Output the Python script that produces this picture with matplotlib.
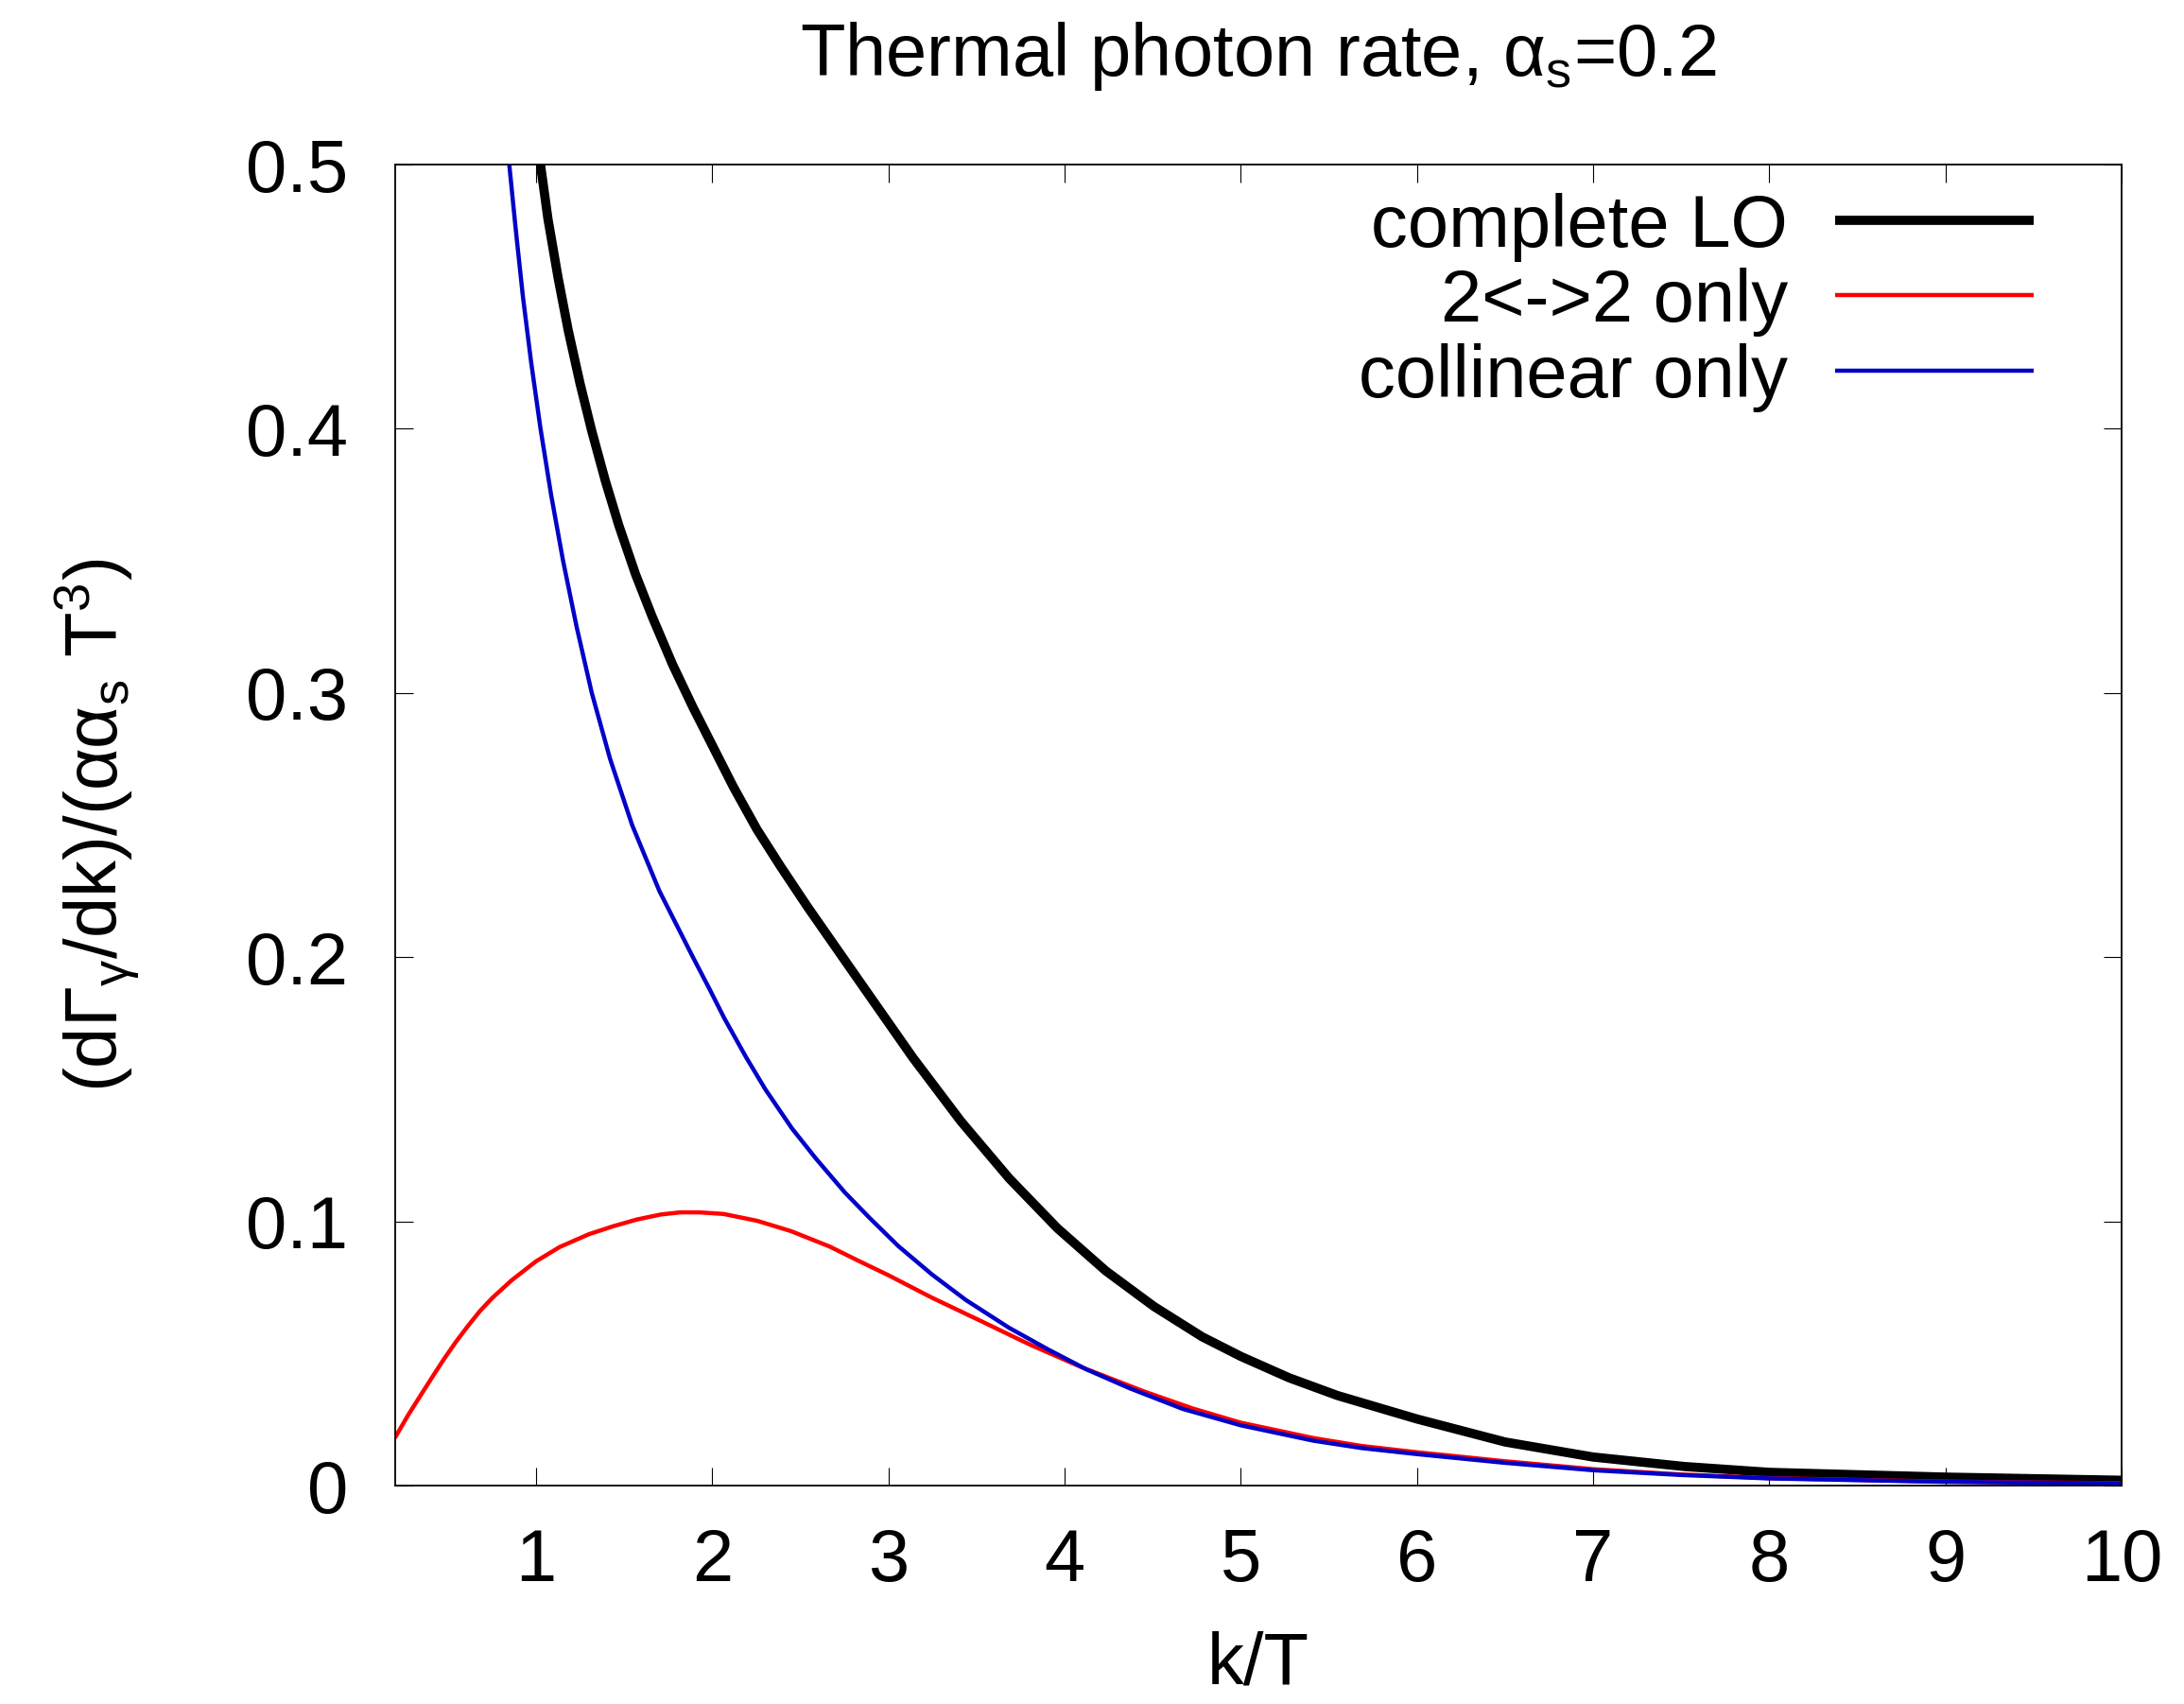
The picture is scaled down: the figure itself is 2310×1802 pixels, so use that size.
import matplotlib
matplotlib.use("Agg")
import matplotlib.pyplot as plt
from matplotlib.lines import Line2D

plt.rcParams['font.family'] = ['Liberation Sans', 'DejaVu Sans']
plt.rcParams['mathtext.fontset'] = 'custom'
plt.rcParams['mathtext.rm'] = 'Liberation Sans'

# complete LO rate
k_lo = [1.0, 1.067, 1.124, 1.182, 1.249, 1.316, 1.392, 1.469, 1.565, 1.660,
        1.775, 1.890, 2.005, 2.120, 2.254, 2.388, 2.541, 2.86, 3.137, 3.411,
        3.685, 3.959, 4.233, 4.507, 4.781, 5.0, 5.274, 5.548, 5.822, 6.0,
        6.5, 7.0, 7.52, 8.0, 9.0, 10.0]
rate_lo = [0.512, 0.4795, 0.4574, 0.4373, 0.4172, 0.3991, 0.3805, 0.3635,
           0.3448, 0.3287, 0.3107, 0.2946, 0.2795, 0.2644, 0.2483, 0.2343,
           0.2190, 0.1885, 0.1621, 0.1379, 0.1163, 0.0974, 0.0813, 0.0678,
           0.0563, 0.0489, 0.0408, 0.0341, 0.0287, 0.0252, 0.0165, 0.0108,
           0.0072, 0.0050, 0.0032, 0.0020]

# 2<->2 only
k_22 = [0.204, 0.272, 0.341, 0.409, 0.478, 0.546, 0.614, 0.683, 0.751, 0.861,
        1.0, 1.134, 1.298, 1.435, 1.572, 1.708, 1.818, 1.927, 2.064, 2.255,
        2.447, 2.665, 2.829, 3.0, 3.247, 3.521, 3.795, 4.096, 4.452, 4.726,
        5.0, 5.411, 5.685, 6.0, 6.5, 7.0, 7.5, 8.0, 9.0, 10.0]
rate_22 = [0.0187, 0.0265, 0.0338, 0.0409, 0.0480, 0.0545, 0.0605, 0.0662,
           0.0710, 0.0777, 0.0849, 0.0903, 0.0951, 0.0981, 0.1007, 0.1026,
           0.1034, 0.1034, 0.1028, 0.1002, 0.0963, 0.0905, 0.0851, 0.0796,
           0.0711, 0.0624, 0.0536, 0.0448, 0.0356, 0.0292, 0.0238, 0.0180,
           0.0150, 0.0126, 0.0092, 0.0062, 0.0042, 0.0028, 0.0015, 0.0009]

# collinear only
k_col = [0.84, 0.885, 0.925, 0.972, 1.025, 1.085, 1.153, 1.230, 1.316, 1.42,
         1.545, 1.70, 1.89, 1.986, 2.068, 2.192, 2.301, 2.452, 2.589, 2.753,
         2.890, 3.055, 3.247, 3.438, 3.685, 3.904, 4.123, 4.370, 4.671, 5.0,
         5.411, 5.685, 6.0, 6.5, 7.0, 7.5, 8.0, 9.0, 10.0]
rate_col = [0.505, 0.475, 0.450, 0.425, 0.400, 0.375, 0.350, 0.325, 0.300,
            0.275, 0.250, 0.225, 0.200, 0.1877, 0.1769, 0.1621, 0.1500, 0.1352,
            0.1237, 0.1109, 0.1015, 0.0907, 0.0799, 0.0703, 0.0597, 0.0516,
            0.0440, 0.0368, 0.0290, 0.0228, 0.0170, 0.0142, 0.0119, 0.0086,
            0.0058, 0.0040, 0.0027, 0.0014, 0.0008]

labels = ['complete LO', '2<->2 only', 'collinear only']
colors = ['black', '#ff0000', '#0000c8']
widths = [7.0, 3.2, 3.2]

fs = 56

fig = plt.figure(figsize=(23.1, 18.02), dpi=100)
ax = fig.add_axes([0.18095, 0.12819, 0.79048, 0.77525])

ax.plot(k_lo, rate_lo, color=colors[0], lw=widths[0], solid_joinstyle='round')
ax.plot(k_22, rate_22, color=colors[1], lw=widths[1], solid_joinstyle='round')
ax.plot(k_col, rate_col, color=colors[2], lw=widths[2], solid_joinstyle='round')

ax.set_xlim(0.2, 10)
ax.set_ylim(0, 0.5)
ax.set_xticks(range(1, 11))
ax.set_yticks([0, 0.1, 0.2, 0.3, 0.4, 0.5])
ax.set_yticklabels(['0', '0.1', '0.2', '0.3', '0.4', '0.5'])
ax.tick_params(direction='in', length=14, width=0.8, top=True, right=True,
               labelsize=fs)
ax.tick_params(axis='x', pad=32)
ax.tick_params(axis='y', pad=36)
for sp in ax.spines.values():
    sp.set_linewidth(1.3)

ax.set_title(r'Thermal photon rate, $\mathregular{α_s}$=0.2', fontsize=fs, pad=68)
ax.set_xlabel('k/T', fontsize=fs)
ax.xaxis.set_label_coords(0.5, -0.110)
ax.set_ylabel(r'(d$\mathregular{Γ_γ}$/dk)/(α$\mathregular{α_s}$ T$\mathregular{^3}$)',
              fontsize=fs)
ax.yaxis.set_label_coords(-0.147, 0.5)

# key, text on the left and sample line on the right
rows = [0.9578, 0.9012, 0.8439]
for lab, c, w, y in zip(labels, colors, widths, rows):
    ax.add_line(Line2D([0.834, 0.949], [y, y], color=c, lw=w,
                       transform=ax.transAxes, solid_capstyle='butt'))
    ax.text(0.8067, y - 0.020, lab, transform=ax.transAxes, ha='right',
            va='baseline', fontsize=fs)

fig.savefig('out.png', dpi=100)
